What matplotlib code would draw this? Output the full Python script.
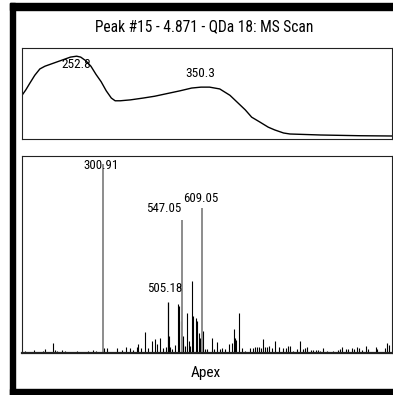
import matplotlib
matplotlib.use("Agg")
from matplotlib import pyplot as plt
from matplotlib import font_manager
from matplotlib.patches import Rectangle

# narrow sans if there is one, otherwise plain Liberation Sans a bit smaller
installed = {f.name for f in font_manager.fontManager.ttflist}
narrow = [n for n in ['Liberation Sans Narrow', 'DejaVu Sans Condensed',
                      'Roboto Condensed', 'Open Sans Condensed'] if n in installed]
if narrow:
    plt.rcParams['font.family'] = [narrow[0], 'DejaVu Sans']
    scale = 1.0
else:
    plt.rcParams['font.family'] = ['Liberation Sans', 'DejaVu Sans']
    scale = 0.84

# UV spectrum at the peak apex
wavelengths = [210, 213, 216, 220, 224, 228, 232, 236, 240, 244, 248, 252.8, 256,
               260, 264, 268, 272, 276, 280, 283, 287, 295, 305, 314, 324, 334,
               343, 350.3, 357, 365, 373, 379, 385, 390, 396, 403, 408, 415, 420,
               444, 475, 500]
absorbance = [0.48, 0.54, 0.61, 0.70, 0.77, 0.80, 0.82, 0.84, 0.86, 0.88, 0.90,
              0.91, 0.90, 0.86, 0.80, 0.71, 0.63, 0.53, 0.45, 0.42, 0.42, 0.43,
              0.45, 0.47, 0.50, 0.53, 0.56, 0.57, 0.57, 0.55, 0.48, 0.40, 0.32,
              0.24, 0.19, 0.13, 0.10, 0.066, 0.055, 0.044, 0.036, 0.033]
uv_labels = ["252.8", "350.3"]
uv_label_x = [252.3, 349.5]
uv_label_y = [0.75, 0.65]

# Labelled MS peaks
main_mz = [300.91, 547.05, 609.05]
main_int = [100.0, 70.2, 76.4]
label_mz = [505.18]
label_int = [26.8]
ms_labels = ["300.91", "547.05", "609.05", "505.18"]
ms_label_x = [297, 546, 606, 494]
ms_label_y = [95.6, 72.9, 78.1, 30.6]
ms_label_ha = ["center", "right", "center", "center"]

# Remaining centroid peaks
minor_mz = [59, 87, 114, 121, 147, 153, 160, 173, 184, 222, 256, 272, 280, 305,
            315, 344, 360, 373, 386, 396, 406, 411, 419, 432, 443, 453, 463, 471,
            479, 489, 498, 508, 511.5, 516, 525.5, 536, 539, 543, 549, 551, 557,
            564, 569, 572, 579, 582, 591, 595, 599, 603, 612, 619, 626, 640, 647,
            657, 665, 671, 681, 694, 702, 709, 712, 715, 725, 733, 743, 759, 767,
            774, 781, 788, 792, 800, 805, 812, 819, 826, 836, 850, 862, 870, 878,
            883, 893, 904, 914, 922, 930, 937, 947, 955, 964, 971, 976, 986, 999,
            1016, 1033, 1038, 1044, 1057, 1064, 1075, 1082, 1090, 1098, 1106,
            1119, 1126, 1150, 1154, 1178, 1183, 1190]
minor_int = [0.8, 1.8, 1.3, 2.1, 5.3, 1.6, 1.3, 1.6, 0.8, 1.3, 1.3, 1.8, 0.8, 2.9,
             2.4, 2.4, 1.8, 3.2, 2.4, 1.8, 3.2, 4.5, 2.6, 11.1, 2.6, 6.3, 7.4, 4.8,
             7.9, 2.6, 3.2, 9.0, 3.2, 2.1, 4.2, 25.9, 24.8, 16.9, 9.0, 4.8, 3.7,
             21.1, 6.3, 3.7, 38.0, 19.5, 18.5, 16.9, 10.6, 7.9, 11.6, 2.1, 2.1, 7.9,
             2.1, 5.8, 2.1, 2.6, 2.1, 4.8, 5.3, 12.7, 7.9, 6.9, 21.1, 2.6, 1.3, 2.4,
             2.6, 3.2, 3.4, 3.2, 2.4, 7.4, 3.2, 3.2, 3.7, 2.4, 6.3, 3.2, 2.4, 2.4,
             3.7, 3.7, 1.3, 2.1, 6.3, 2.1, 2.6, 3.2, 1.8, 1.8, 1.8, 1.8, 1.3, 2.6,
             1.1, 1.1, 1.6, 2.1, 3.2, 2.1, 2.1, 2.6, 2.1, 3.2, 2.6, 1.6, 3.7, 2.1,
             3.2, 2.1, 2.6, 5.3, 4.2]

fig = plt.figure(figsize=(3.93, 3.95), dpi=100)
W, H = 393.0, 395.0

# thick frame on top, left and bottom
for x0, y0, x1, y1 in [(10, 3, 393, 10), (10, 3, 15, 395), (10, 389, 393, 395)]:
    fig.patches.append(Rectangle((x0 / W, 1 - y1 / H), (x1 - x0) / W, (y1 - y0) / H,
                                 transform=fig.transFigure, color="black", zorder=5))

fig.text(204 / W, 1 - 27 / H, "Peak #15 - 4.871 - QDa 18: MS Scan",
         ha="center", va="center", fontsize=11.2 * scale)
fig.text(206 / W, 1 - 373 / H, "Apex", ha="center", va="center",
         fontsize=11 * scale)

# UV panel
ax1 = fig.add_axes([22 / W, 1 - 139 / H, 370 / W, 91 / H])
ax1.plot(wavelengths, absorbance, color="black", lw=1.0)
for s, x, y in zip(uv_labels, uv_label_x, uv_label_y):
    ax1.text(x, y, s, ha="center", va="bottom", fontsize=9.5 * scale)
ax1.set_xlim(210, 500)
ax1.set_ylim(0, 1)

# MS panel
ax2 = fig.add_axes([22 / W, 1 - 353 / H, 370 / W, 197 / H])
ax2.vlines(minor_mz, 0, minor_int, color="black", lw=0.8)
ax2.vlines(label_mz, 0, label_int, color="black", lw=0.9)
ax2.vlines(main_mz, 0, main_int, color="#8c8c8c", lw=1.4)
for s, x, y, ha in zip(ms_labels, ms_label_x, ms_label_y, ms_label_ha):
    ax2.text(x, y, s, ha=ha, va="bottom", fontsize=9.3 * scale)
ax2.set_xlim(50, 1200)
ax2.set_ylim(0, 104)
ax2.spines["bottom"].set_linewidth(1.6)

for ax in (ax1, ax2):
    ax.set_xticks([])
    ax.set_yticks([])
    for sp in ax.spines.values():
        sp.set_color("#222222")
    ax.patch.set_alpha(0)

fig.savefig("out.png", dpi=100, facecolor="white")
